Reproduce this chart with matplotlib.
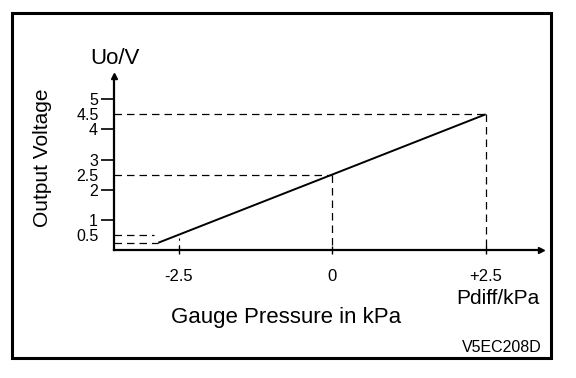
import matplotlib
matplotlib.use("Agg")
import matplotlib.pyplot as plt
from matplotlib.patches import Rectangle

plt.rcParams['font.family'] = ['Liberation Sans', 'DejaVu Sans']

# sensor characteristic: gauge pressure (kPa) -> output voltage (V)
pressure = [-2.83, 0, 2.5]
voltage = [0.24, 2.5, 4.5]

# reference points marked with dashed guide lines
ref_p = [-2.5, 0, 2.5]
ref_v = [0.5, 2.5, 4.5]

y_major = [1, 2, 3, 4, 5]
y_minor = [0.5, 2.5, 4.5]
x_ticks = [-2.5, 0, 2.5]
x_labels = ['-2.5', '0', '+2.5']

W, H = 576, 378
fig = plt.figure(figsize=(W / 100, H / 100), dpi=100)
fig.patch.set_facecolor('white')

# axes placed so the axis lines sit where the drawing has them
ax = fig.add_axes([114 / W, 1 - 250 / H, (541 - 114) / W, (250 - 76) / H])
ax.set_xlim(-3.55, 3.4)
ax.set_ylim(0, 5.77)

for s in ['top', 'right']:
    ax.spines[s].set_visible(False)
for s in ['left', 'bottom']:
    ax.spines[s].set_linewidth(1.6)

# arrow heads
ax.plot(1, 0, marker='>', color='k', ms=5, transform=ax.transAxes, clip_on=False)
ax.plot(0, 1, marker='^', color='k', ms=5, transform=ax.transAxes, clip_on=False)

# characteristic line
ax.plot(pressure, voltage, color='k', lw=1.4, clip_on=False, solid_capstyle='butt')

dash = dict(color='k', lw=0.9, ls=(0, (6, 4)), clip_on=False)
x0 = ax.get_xlim()[0]
ax.plot([x0, ref_p[2]], [ref_v[2], ref_v[2]], **dash)
ax.plot([ref_p[2], ref_p[2]], [ref_v[2], 0], **dash)
ax.plot([x0, ref_p[1]], [ref_v[1], ref_v[1]], **dash)
ax.plot([ref_p[1], ref_p[1]], [ref_v[1], 0], **dash)
ax.plot([x0, -2.9], [ref_v[0], ref_v[0]], **dash)
ax.plot([x0, pressure[0]], [voltage[0], voltage[0]], **dash)
ax.plot([ref_p[0], ref_p[0]], [ref_v[0] - 0.1, 0], color='k', lw=0.8, ls=(0, (2, 4)))

# y ticks: integers with tick marks, halves without
ax.set_yticks(y_major)
ax.set_yticklabels([str(v) for v in y_major])
ax.set_yticks(y_minor, minor=True)
ax.set_yticklabels([str(v) for v in y_minor], minor=True)
ax.tick_params(axis='y', which='major', length=9.5, width=1.2, pad=2, labelsize=11.5)
ax.tick_params(axis='y', which='minor', length=0, pad=11, labelsize=11.5)

ax.set_xticks(x_ticks)
ax.set_xticklabels(x_labels)
ax.tick_params(axis='x', which='major', direction='inout', length=6, width=1,
               pad=11, labelsize=12)

# texts
fig.text(115 / W, 1 - 58 / H, 'Uo/V', fontsize=16, ha='center', va='center')
fig.text(42 / W, 1 - 158 / H, 'Output Voltage', fontsize=15, rotation=90,
         ha='center', va='center')
fig.text(286 / W, 1 - 318 / H, 'Gauge Pressure in kPa', fontsize=16,
         ha='center', va='center')
fig.text(540 / W, 1 - 298 / H, 'Pdiff/kPa', fontsize=15, ha='right', va='center')
fig.text(542 / W, 1 - 347 / H, 'V5EC208D', fontsize=11.5, ha='right', va='center')

# outer frame
fig.add_artist(Rectangle((12 / W, 1 - 358 / H), (551 - 12) / W, (358 - 13) / H,
                         transform=fig.transFigure, fill=False, lw=2.2, ec='k'))

fig.savefig('out.png', dpi=100)
